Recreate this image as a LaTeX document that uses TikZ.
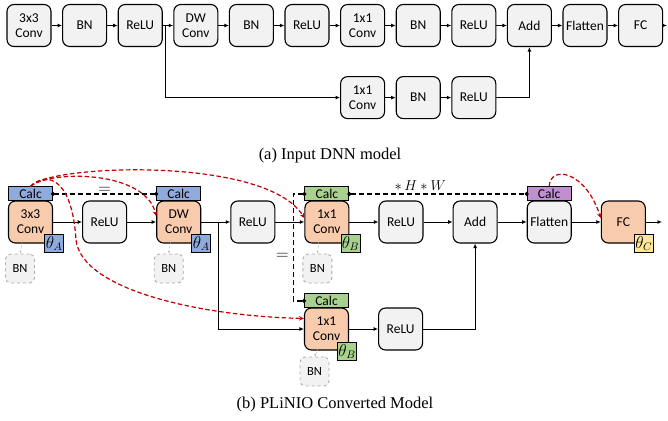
\documentclass[tikz,border=0pt]{standalone}
\usepackage{fontspec}
\setmainfont{Liberation Serif}
\setsansfont{Carlito}
\usetikzlibrary{positioning}
\usetikzlibrary{calc}
\usetikzlibrary{arrows.meta}

\definecolor{boxgray}{HTML}{F2F2F2}
\definecolor{convorange}{HTML}{F8CBAD}
\definecolor{calcblue}{HTML}{8FAADC}
\definecolor{calcgreen}{HTML}{A9D18E}
\definecolor{calcpurple}{HTML}{BF8FD0}
\definecolor{thetayellow}{HTML}{FFE699}
\definecolor{linkred}{HTML}{C00000}

\tikzset{
  layer/.style={draw, line width=1.1pt, rounded corners=7pt, fill=boxgray, minimum width=44pt, minimum height=42pt, align=center, inner sep=1pt, font=\sffamily\fontsize{13.5}{15}\selectfont},
  conv/.style={layer, fill=convorange},
  calcbox/.style={draw, line width=1pt, minimum width=44pt, minimum height=14pt, inner sep=0pt, font=\sffamily\fontsize{13.5}{13.5}\selectfont},
  thetabox/.style={draw, line width=0.6pt, minimum width=19pt, minimum height=18pt, inner sep=0pt, font=\fontsize{16}{16}\selectfont},
  bnbox/.style={draw=gray!65, dashed, line width=0.9pt, rounded corners=5pt, fill=boxgray, minimum width=29pt, minimum height=29pt, inner sep=0pt, font=\sffamily\fontsize{12.5}{13}\selectfont},
  flow/.style={-{Latex[length=4.5pt,width=4pt]}, line width=1pt},
  share/.style={{Circle[length=4pt,sep=-2pt]}-{Circle[length=4pt,sep=-2pt]}, line width=1.1pt, dash pattern=on 5pt off 3pt},
  link/.style={-{Stealth[length=5pt,width=4.5pt]}, linkred, line width=1.2pt, dash pattern=on 4.5pt off 2.5pt},
  fold/.style={-{Latex[length=2.5pt]}, gray!60, densely dashed, line width=0.5pt},
  caption/.style={font=\fontsize{16.5}{18}\selectfont},
}

\begin{document}
\begin{tikzpicture}[x=1pt, y=-1pt]
\useasboundingbox (0,0) rectangle (668,420);

% (a) input model
\node[layer] (a1) at (29,25.5) {3x3\\Conv};
\node[layer, right=10.5pt of a1] (a2) {BN};
\node[layer, right=10.5pt of a2] (a3) {ReLU};
\node[layer, right=10.5pt of a3] (a4) {DW\\Conv};
\node[layer, right=10.5pt of a4] (a5) {BN};
\node[layer, right=10.5pt of a5] (a6) {ReLU};
\node[layer, right=10.5pt of a6] (a7) {1x1\\Conv};
\node[layer, right=10.5pt of a7] (a8) {BN};
\node[layer, right=10.5pt of a8] (a9) {ReLU};
\node[layer, right=10.5pt of a9] (a10) {Add};
\node[layer, right=10.5pt of a10] (a11) {Flatten};
\node[layer, right=10.5pt of a11] (a12) {FC};
\coordinate (aout) at (667,25.5);

\node[layer, below=29pt of a7] (b1) {1x1\\Conv};
\node[layer, right=10.5pt of b1] (b2) {BN};
\node[layer, right=10.5pt of b2] (b3) {ReLU};

\foreach \i/\j in {a1/a2, a2/a3, a3/a4, a4/a5, a5/a6, a6/a7, a7/a8, a8/a9, a9/a10, a10/a11, a11/a12, a12/aout, b1/b2, b2/b3}
  \draw[flow] (\i) -- (\j);
\coordinate (asplit) at ($(a3.east)!0.25!(a4.west)$);
\draw[flow] (asplit) |- (b1.west);
\draw[flow] (b3.east) -| (a10.south);

\node[caption] (capa) at (330,156) {(a) Input DNN model};

% (b) converted model
\node[conv] (convA) at (30.5,222) {3x3\\Conv};
\node[layer, right=29pt of convA] (reluA) {ReLU};
\node[conv, right=29pt of reluA] (convDW) {DW\\Conv};
\node[layer, right=29pt of convDW] (reluDW) {ReLU};
\node[conv, right=29pt of reluDW] (convB) {1x1\\Conv};
\node[layer, right=29pt of convB] (reluB) {ReLU};
\node[layer, right=29pt of reluB] (addB) {Add};
\node[layer, right=29pt of addB] (flatB) {Flatten};
\node[conv, right=29pt of flatB] (fcB) {FC};
\coordinate (bout) at (662,222);

\node[conv] (convC) at (326.5,329) {1x1\\Conv};
\node[layer, right=29pt of convC] (reluC) {ReLU};

\node[calcbox, fill=calcblue, above=-1pt of convA] (calcA) {Calc};
\node[calcbox, fill=calcblue, above=-1pt of convDW] (calcDW) {Calc};
\node[calcbox, fill=calcgreen, above=-1pt of convB] (calcB) {Calc};
\node[calcbox, fill=calcgreen, above=-1pt of convC] (calcC) {Calc};
\node[calcbox, fill=calcpurple, above=-1pt of flatB] (calcF) {Calc};

\node[thetabox, fill=calcblue] (thA) at ([xshift=1pt]convA.south east) {$\theta_A$};
\node[thetabox, fill=calcblue] (thDW) at (convDW.south east) {$\theta_A$};
\node[thetabox, fill=calcgreen] (thB) at ([xshift=1pt]convB.south east) {$\theta_B$};
\node[thetabox, fill=calcgreen] (thC) at ([xshift=-2pt,yshift=-1pt]convC.south east) {$\theta_B$};
\node[thetabox, fill=thetayellow] (thFC) at ([xshift=-2pt]fcB.south east) {$\theta_C$};

\node[bnbox, below=10pt of convA, xshift=-10.5pt] (bnA) {BN};
\node[bnbox, below=10pt of convDW, xshift=-10pt] (bnDW) {BN};
\node[bnbox, below=10pt of convB, xshift=-9.5pt] (bnB) {BN};
\node[bnbox, below=6pt of convC, xshift=-12pt] (bnC) {BN};
\foreach \c/\b in {convA/bnA, convDW/bnDW, convB/bnB, convC/bnC}
  \draw[fold] ([xshift=-8pt,yshift=3pt]\c.south) -- (\b.north);

\foreach \i/\j in {convA/reluA, reluA/convDW, convDW/reluDW, reluDW/convB, convB/reluB, reluB/addB, addB/flatB, flatB/fcB, fcB/bout, convC/reluC}
  \draw[flow] (\i) -- (\j);
\coordinate (bsplit) at ($(convDW.east)!0.58!(reluDW.west)$);
\draw[flow] (bsplit) |- (convC.west);
\draw[flow] (reluC.east) -| (addB.south);

% shared masks
\draw[share] (calcA.east) -- node[above=-3pt, font=\fontsize{16}{16}\selectfont] {$=$} (calcDW.west);
\draw[share] (calcB.east) -- node[pos=0.4, above=0pt, font=\fontsize{14}{14}\selectfont] {$*\,H*W$} (calcF.west);
\draw[share] (calcB.west) -- ++(-11,0) |- node[pos=0.29, left=1pt, font=\fontsize{16}{16}\selectfont] {$=$} (calcC.west);

% parameter links
\draw[link] (calcA.north) .. controls (45,165) and (265,155) .. (convB.170);
\draw[link] (calcA.north) .. controls (50,170) and (145,170) .. (convDW.165);
\draw[link] (calcA.north) .. controls (45,172) and (72,175) .. (76,240)
  .. controls (82,290) and (200,316) .. (convC.155);
\draw[link] (calcF.north) .. controls (550,165) and (585,170) .. (fcB.170);

\node[caption] (capb) at (335,405) {(b) PLiNIO Converted Model};
\end{tikzpicture}
\end{document}
